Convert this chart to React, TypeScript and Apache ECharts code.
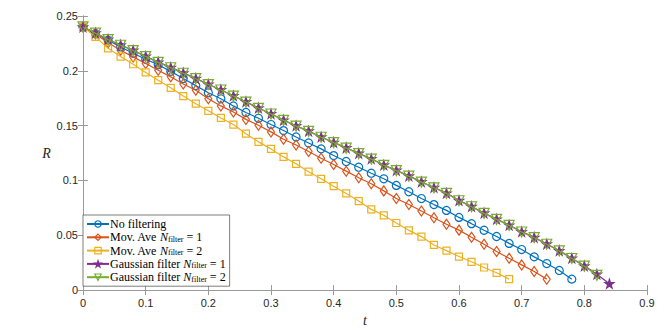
import React, { useEffect, useRef } from "react";
import * as echarts from "echarts";

const tGrid = [0, 0.02, 0.04, 0.06, 0.08, 0.1, 0.12, 0.14, 0.16, 0.18, 0.2, 0.22, 0.24, 0.26, 0.28, 0.3, 0.32, 0.34, 0.36, 0.38, 0.4, 0.42, 0.44, 0.46, 0.48, 0.5, 0.52, 0.54, 0.56, 0.58, 0.6, 0.62, 0.64, 0.66, 0.68, 0.7, 0.72, 0.74, 0.76, 0.78, 0.8, 0.82, 0.84];

const noFiltering = [0.24, 0.234, 0.228, 0.2218, 0.216, 0.2106, 0.2055, 0.1995, 0.193, 0.1865, 0.18, 0.1745, 0.168, 0.162, 0.1567, 0.151, 0.1455, 0.1397, 0.1342, 0.1288, 0.1227, 0.1173, 0.1121, 0.1066, 0.1015, 0.0955, 0.0897, 0.0835, 0.078, 0.0727, 0.0663, 0.0606, 0.0546, 0.0489, 0.0426, 0.037, 0.0303, 0.0242, 0.0179, 0.01];
const movAve1 = [0.24, 0.2335, 0.2257, 0.2188, 0.2127, 0.2066, 0.2006, 0.1945, 0.188, 0.1822, 0.1745, 0.168, 0.1625, 0.1557, 0.1503, 0.1443, 0.1376, 0.1324, 0.1264, 0.1203, 0.1145, 0.1085, 0.1024, 0.097, 0.0905, 0.0836, 0.078, 0.0721, 0.066, 0.06, 0.0547, 0.0482, 0.0418, 0.0352, 0.029, 0.023, 0.017, 0.01];
const movAve2 = [0.24, 0.231, 0.2205, 0.213, 0.206, 0.1985, 0.1915, 0.1845, 0.177, 0.17, 0.1635, 0.157, 0.151, 0.1427, 0.1352, 0.1288, 0.1215, 0.1152, 0.108, 0.1015, 0.0948, 0.0882, 0.0812, 0.0736, 0.0682, 0.0612, 0.0545, 0.0488, 0.0412, 0.036, 0.0306, 0.0258, 0.0206, 0.0158, 0.01];
const gauss1 = [0.24, 0.2345, 0.2288, 0.2236, 0.2188, 0.2133, 0.208, 0.2031, 0.1981, 0.1931, 0.1878, 0.1828, 0.1773, 0.1718, 0.1661, 0.1609, 0.1551, 0.1499, 0.1451, 0.1397, 0.1348, 0.1298, 0.1248, 0.1198, 0.1141, 0.1093, 0.1042, 0.0988, 0.0936, 0.0885, 0.0818, 0.0763, 0.0703, 0.0648, 0.0593, 0.0533, 0.0481, 0.0421, 0.036, 0.0291, 0.0221, 0.0145, 0.0058];
const gauss2 = [0.24, 0.2343, 0.2285, 0.2233, 0.2185, 0.213, 0.2077, 0.2028, 0.1978, 0.1928, 0.1875, 0.1825, 0.177, 0.1715, 0.1658, 0.1606, 0.1548, 0.1496, 0.1448, 0.1394, 0.1345, 0.1295, 0.1245, 0.1195, 0.1138, 0.109, 0.1039, 0.0985, 0.0933, 0.0882, 0.0815, 0.076, 0.07, 0.0645, 0.059, 0.053, 0.0478, 0.0418, 0.0357, 0.0288, 0.0218, 0.0135];

const seriesNames = ["No filtering", "Mov. Ave 1", "Mov. Ave 2", "Gaussian 1", "Gaussian 2"];
const legendLabels = [
  "No filtering",
  "Mov. Ave {n|N}{s|filter} = 1",
  "Mov. Ave {n|N}{s|filter} = 2",
  "Gaussian filter {n|N}{s|filter} = 1",
  "Gaussian filter {n|N}{s|filter} = 2",
];
const colors = ["#0072BD", "#D95319", "#EDB120", "#7E2F8E", "#77AC30"];

const STAR = "path://M50,0 L61.2,34.5 L97.6,34.5 L68.2,55.9 L79.4,90.5 L50,69.1 L20.6,90.5 L31.8,55.9 L2.4,34.5 L38.8,34.5 Z";
const SERIF = "Liberation Serif";
const SANS = "Liberation Sans";

export default function App() {
  const ref = useRef<HTMLDivElement>(null);
  useEffect(() => {
    const chart = echarts.init(ref.current!, null, { renderer: "svg" });
    const values = [noFiltering, movAve1, movAve2, gauss1, gauss2];
    const symbols = ["circle", "diamond", "rect", STAR, "triangle"];
    const sizes = [8, [7, 10], 7, 9, 10];
    const rotates = [0, 0, 0, 0, 180];
    const clear = "rgba(255,255,255,0)";
    const series = values.map((v, k) => ({
      name: seriesNames[k],
      type: "line",
      data: v.map((y, i) => [tGrid[i], y]),
      symbol: symbols[k],
      symbolSize: sizes[k],
      symbolRotate: rotates[k],
      showAllSymbol: true,
      lineStyle: { color: colors[k], width: 1.2 },
      itemStyle: {
        color: k === 3 ? colors[k] : clear,
        borderColor: colors[k],
        borderWidth: 1.2,
      },
      emphasis: { disabled: true },
      z: 2 + k,
    }));
    const axisCol = "#9a9a9a";
    const labelStyle = { color: "#262626", fontFamily: SANS, fontSize: 11 };
    chart.setOption({
      animation: false,
      grid: { left: 83, top: 16, right: 17, bottom: 41 },
      xAxis: [
        {
          type: "value", min: 0, max: 0.9, interval: 0.1,
          axisLine: { show: true, lineStyle: { color: axisCol } },
          axisTick: { show: true, inside: true, length: 5, lineStyle: { color: axisCol } },
          axisLabel: { ...labelStyle, margin: 7 },
          splitLine: { show: false },
          name: "t", nameLocation: "middle", nameGap: 21,
          nameTextStyle: { fontFamily: SERIF, fontStyle: "italic", fontSize: 14, color: "#262626" },
        },
        {
          type: "value", position: "top", min: 0, max: 0.9, interval: 0.1,
          axisLine: { show: true, lineStyle: { color: axisCol } },
          axisTick: { show: true, inside: true, length: 5, lineStyle: { color: axisCol } },
          axisLabel: { show: false }, splitLine: { show: false },
        },
      ],
      yAxis: [
        {
          type: "value", min: 0, max: 0.25, interval: 0.05,
          axisLine: { show: true, lineStyle: { color: axisCol } },
          axisTick: { show: true, inside: true, length: 5, lineStyle: { color: axisCol } },
          axisLabel: { ...labelStyle, margin: 5 },
          splitLine: { show: false },
          name: "R", nameLocation: "middle", nameGap: 32, nameRotate: 0,
          nameTextStyle: { fontFamily: SERIF, fontStyle: "italic", fontSize: 14, color: "#262626" },
        },
        {
          type: "value", position: "right", min: 0, max: 0.25, interval: 0.05,
          axisLine: { show: true, lineStyle: { color: axisCol } },
          axisTick: { show: true, inside: true, length: 5, lineStyle: { color: axisCol } },
          axisLabel: { show: false }, splitLine: { show: false },
        },
      ],
      legend: {
        orient: "vertical",
        left: 83, top: 215,
        padding: [3, 4, 3, 3],
        itemGap: 1.3,
        itemWidth: 22,
        itemHeight: 8,
        backgroundColor: "#fff",
        borderColor: "#262626",
        borderWidth: 0.6,
        borderRadius: 0,
        data: seriesNames.map((n, k) => ({
          name: n,
          itemStyle: { color: k === 3 ? colors[k] : clear, borderColor: colors[k], borderWidth: 1.2 },
        })),
        formatter: (name: string) => legendLabels[seriesNames.indexOf(name)],
        textStyle: {
          fontFamily: SERIF, fontSize: 12, color: "#000", lineHeight: 12, padding: [0, 0, 0, -4],
          rich: {
            n: { fontFamily: SERIF, fontStyle: "italic", fontSize: 12, lineHeight: 12 },
            s: { fontFamily: SERIF, fontSize: 8, lineHeight: 4, verticalAlign: "bottom" },
          },
        },
      },
      series,
    });
    return () => chart.dispose();
  }, []);
  return <div ref={ref} style={{ position: "fixed", left: 0, top: 0, width: 664, height: 332, background: "#fff" }} />;
}
